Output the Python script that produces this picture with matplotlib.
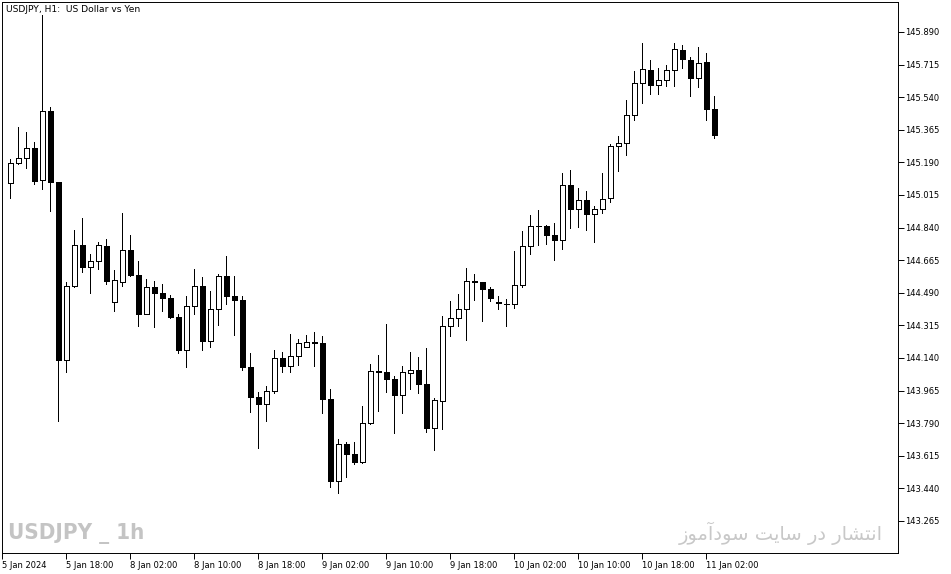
import matplotlib
matplotlib.use("Agg")
import matplotlib.pyplot as plt
from matplotlib import font_manager
import numpy as np

# hourly USDJPY candles, 5 Jan 11:00 .. 11 Jan 03:00
opens = [145.078, 145.185, 145.212, 145.266, 145.094, 145.466, 145.086, 144.128, 144.527, 144.745,
         144.627, 144.659, 144.740, 144.439, 144.546, 144.720, 144.586, 144.375, 144.520, 144.487,
         144.460, 144.362, 144.181, 144.418, 144.525, 144.233, 144.401, 144.579, 144.474, 144.453,
         144.093, 143.932, 143.895, 143.961, 144.140, 144.099, 144.151, 144.198, 144.224, 144.219,
         143.922, 143.481, 143.677, 143.623, 143.583, 143.790, 144.068, 144.066, 144.029, 143.943,
         144.061, 144.074, 143.999, 143.766, 143.908, 144.310, 144.353, 144.401, 144.551, 144.546,
         144.509, 144.438, 144.429, 144.428, 144.530, 144.740, 144.848, 144.847, 144.802, 144.775,
         145.067, 144.942, 144.987, 144.915, 144.938, 144.997, 145.276, 145.293, 145.443, 145.615,
         145.684, 145.607, 145.631, 145.684, 145.792, 145.738, 145.645, 145.727, 145.478]
highs = [145.207, 145.380, 145.353, 145.298, 145.981, 145.487, 145.086, 144.548, 144.827, 144.892,
         144.698, 144.763, 144.779, 144.612, 144.920, 144.800, 144.661, 144.564, 144.553, 144.537,
         144.478, 144.375, 144.473, 144.618, 144.575, 144.500, 144.593, 144.688, 144.580, 144.473,
         144.167, 143.956, 143.991, 144.183, 144.171, 144.269, 144.244, 144.264, 144.280, 144.258,
         143.972, 143.704, 143.691, 143.687, 143.882, 144.108, 144.156, 144.323, 144.042, 144.097,
         144.172, 144.144, 144.192, 143.924, 144.366, 144.446, 144.484, 144.623, 144.591, 144.550,
         144.521, 144.473, 144.457, 144.716, 144.822, 144.908, 144.935, 144.854, 144.866, 145.132,
         145.149, 145.051, 145.037, 144.956, 145.132, 145.287, 145.332, 145.525, 145.681, 145.831,
         145.740, 145.697, 145.714, 145.831, 145.820, 145.756, 145.810, 145.777, 145.546]
lows = [145.001, 145.180, 145.162, 145.072, 145.049, 144.931, 143.803, 144.067, 144.520, 144.603,
        144.491, 144.619, 144.539, 144.394, 144.528, 144.582, 144.313, 144.375, 144.308, 144.394,
        144.356, 144.168, 144.090, 144.378, 144.185, 144.201, 144.319, 144.432, 144.265, 144.077,
        143.852, 143.659, 143.803, 143.954, 144.067, 144.067, 144.104, 144.198, 144.097, 143.846,
        143.446, 143.417, 143.500, 143.569, 143.578, 143.784, 143.857, 143.959, 143.739, 143.846,
        143.975, 143.951, 143.744, 143.648, 143.761, 144.260, 144.312, 144.238, 144.453, 144.340,
        144.447, 144.405, 144.313, 144.410, 144.523, 144.700, 144.747, 144.754, 144.668, 144.727,
        144.840, 144.845, 144.829, 144.764, 144.920, 144.979, 145.146, 145.231, 145.419, 145.510,
        145.559, 145.559, 145.602, 145.602, 145.698, 145.548, 145.596, 145.419, 145.323]
closes = [145.185, 145.212, 145.266, 145.092, 145.466, 145.086, 144.128, 144.527, 144.745, 144.627,
          144.659, 144.745, 144.555, 144.557, 144.720, 144.586, 144.375, 144.520, 144.487, 144.460,
          144.362, 144.181, 144.418, 144.525, 144.233, 144.401, 144.579, 144.474, 144.453, 144.093,
          143.932, 143.895, 143.961, 144.140, 144.099, 144.151, 144.219, 144.224, 144.222, 143.922,
          143.481, 143.677, 143.623, 143.583, 143.790, 144.070, 144.066, 144.029, 143.943, 144.065,
          144.074, 143.999, 143.766, 143.915, 144.310, 144.353, 144.401, 144.552, 144.550, 144.509,
          144.464, 144.437, 144.428, 144.530, 144.740, 144.847, 144.847, 144.802, 144.775, 145.067,
          144.942, 144.987, 144.915, 144.938, 144.992, 145.276, 145.293, 145.443, 145.615, 145.690,
          145.607, 145.631, 145.684, 145.797, 145.747, 145.645, 145.722, 145.478, 145.339]

price_ticks = [143.265, 143.440, 143.615, 143.790, 143.965, 144.140, 144.315, 144.490,
               144.665, 144.840, 145.015, 145.190, 145.365, 145.540, 145.715, 145.890]
time_labels = ["5 Jan 2024", "5 Jan 18:00", "8 Jan 02:00", "8 Jan 10:00", "8 Jan 18:00",
               "9 Jan 02:00", "9 Jan 10:00", "9 Jan 18:00", "10 Jan 02:00", "10 Jan 10:00",
               "10 Jan 18:00", "11 Jan 02:00"]
time_label_bars = [-1, 7, 15, 23, 31, 39, 47, 55, 63, 71, 79, 87]

# look for a narrow bold face for the watermark
narrow = None
for f in font_manager.fontManager.ttflist:
    n = f.name.lower()
    if "narrow" in n or "condensed" in n or f.stretch in ("condensed", "semi-condensed"):
        narrow = f
        break

W, H = 951, 574
fig = plt.figure(figsize=(W / 100, H / 100), dpi=100)
ax = fig.add_axes([2.3 / W, (H - 553) / H, (898 - 2.3) / W, 551 / H])

o = np.array(opens)
c = np.array(closes)
x = np.arange(len(o))
up = c >= o
lw = 0.55

ax.vlines(x, lows, highs, color="black", linewidth=lw, antialiased=False, zorder=1)
body_bottom = np.minimum(o, c)
body_h = np.maximum(np.abs(c - o), 0.0005)
ax.bar(x[up], body_h[up], bottom=body_bottom[up], width=0.55, color="white",
       edgecolor="black", linewidth=lw, antialiased=False, zorder=2)
ax.bar(x[~up], body_h[~up], bottom=body_bottom[~up], width=0.55, color="black",
       edgecolor="black", linewidth=lw, antialiased=False, zorder=2)

ax.set_xlim(-1.0, 110.96)
ax.set_ylim(143.093, 146.051)

ax.yaxis.tick_right()
ax.set_yticks(price_ticks)
ax.set_yticklabels(["%.3f" % p for p in price_ticks])
ax.tick_params(axis="y", direction="out", length=4, width=0.7, pad=1, labelsize=6)
ax.set_xticks(time_label_bars)
ax.set_xticklabels(time_labels, ha="left")
ax.tick_params(axis="x", direction="out", length=4, width=0.7, pad=1.5, labelsize=6)

for s in ax.spines.values():
    s.set_linewidth(0.7)

ax.text(4 / 895.7, 1 - 7.5 / 551, "USDJPY, H1:  US Dollar vs Yen", transform=ax.transAxes,
        fontsize=6.6, va="center", ha="left")

if narrow is not None:
    ax.text(6 / 895.7, 19 / 551, "USDJPY _ 1h", transform=ax.transAxes, size=16,
            weight="bold", color="#c4c4c4", va="center", ha="left",
            family=[narrow.name, "DejaVu Sans"], stretch=narrow.stretch)
else:
    ax.text(6 / 895.7, 19 / 551, "USDJPY _ 1h", transform=ax.transAxes, size=15,
            weight="bold", color="#c4c4c4", va="center", ha="left")

persian = ("\ufeaf\ufeee\ufee3\ufe81\ufea9\ufeee\ufeb3 "
           "\ufe96\ufef3\ufe8e\ufeb3 "
           "\ufead\ufea9 "
           "\ufead\ufe8e\ufeb8\ufe98\ufee7\ufe8d")
ax.text((883 - 2.3) / 895.7, 20 / 551, persian, transform=ax.transAxes, fontsize=14,
        color="#c8c8c8", va="center", ha="right", family=["DejaVu Sans"])

fig.savefig("out.png", dpi=100)
